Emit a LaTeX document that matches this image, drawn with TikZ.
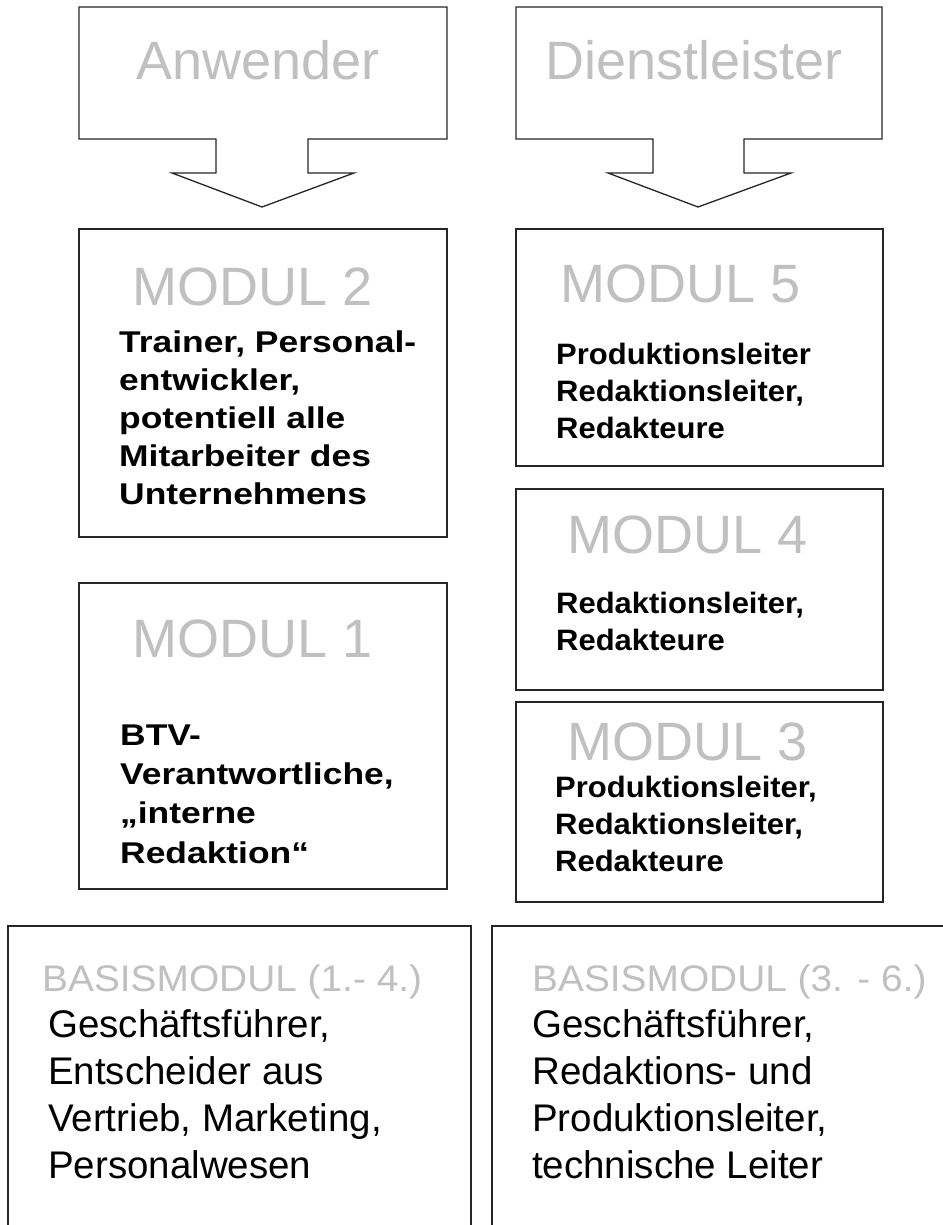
\documentclass[tikz,border=0pt]{standalone}
\usepackage{fontspec}
\setmainfont{Liberation Sans}
\newfontfamily\widebold[FakeStretch=1.18]{Liberation Sans}
\newfontfamily\semibold[FakeStretch=1.05]{Liberation Sans}
\newfontfamily\widelight[FakeStretch=1.05]{Liberation Sans}
\usepackage{tikz}
\definecolor{titlegray}{HTML}{C0C0C0}
\tikzset{
  boxline/.style={line width=1.3pt, draw=black!85, fill=white},
  bigtitle/.style={anchor=base, inner sep=0pt, text=titlegray, font=\fontsize{54}{60}\selectfont},
  modtitle/.style={anchor=base west, inner sep=0pt, text=titlegray, font=\fontsize{54}{60}\selectfont},
  basetitle/.style={anchor=base west, inner sep=0pt, text=titlegray, font=\widelight\fontsize{37}{42}\selectfont},
  % bei mehrzeiligen Knoten liegt "base" auf der letzten Zeile
  leftbody/.style={anchor=base west, inner sep=0pt, align=left, font=\widebold\bfseries\fontsize{30}{38}\selectfont},
  rightbody/.style={anchor=base west, inner sep=0pt, align=left, font=\semibold\bfseries\fontsize{29.5}{37}\selectfont},
  basebody/.style={anchor=base west, inner sep=0pt, align=left, font=\fontsize{38.5}{46.7}\selectfont}
}
\begin{document}
\begin{tikzpicture}[x=1pt, y=-1pt]
        \useasboundingbox (0,0) rectangle (942,1225);

        % Pfeile oben
        \draw [boxline] (79,7) -- (447,7) -- (447,139) -- (308,139) -- (308,173) -- (354,173)
              -- (262,207) -- (172,173) -- (216,173) -- (216,139) -- (79,139) -- cycle;        %Anwender
        \node [bigtitle] (anwender) at (258,80) {Anwender};
        \draw [boxline] (516,7) -- (882,7) -- (882,139) -- (744,139) -- (744,173) -- (791,173)
              -- (698,207) -- (608,173) -- (653,173) -- (653,139) -- (516,139) -- cycle;       %Dienstleister
        \node [bigtitle] (dienstl) at (694,80) {Dienstleister};

        % linke Spalte
        \draw [boxline] (79,229) rectangle (447,537);                                         %MODUL 2
        \node [modtitle] (m2title) at (132,305) {MODUL 2};
        \node [leftbody] (m2text) at (119,504) {Trainer, Personal-\\entwickler,\\potentiell alle\\Mitarbeiter des\\Unternehmens};
        \draw [boxline] (79,583) rectangle (447,889);                                         %MODUL 1
        \node [modtitle] (m1title) at (132,657) {MODUL 1};
        \node [leftbody, font=\widebold\bfseries\fontsize{30}{39.3}\selectfont] (m1text) at (120,863) {BTV-\\Verantwortliche,\\„interne\\Redaktion“};

        % rechte Spalte
        \draw [boxline] (516,229) rectangle (883,466);                                        %MODUL 5
        \node [modtitle] (m5title) at (560,302) {MODUL 5};
        \node [rightbody] (m5text) at (556,438) {Produktionsleiter\\Redaktionsleiter,\\Redakteure};
        \draw [boxline] (516,489) rectangle (883,690);                                        %MODUL 4
        \node [modtitle] (m4title) at (567,553) {MODUL 4};
        \node [rightbody] (m4text) at (556,650) {Redaktionsleiter,\\Redakteure};
        \draw [boxline] (516,702) rectangle (883,902);                                        %MODUL 3
        \node [modtitle] (m3title) at (567,760) {MODUL 3};
        \node [rightbody] (m3text) at (555,871) {Produktionsleiter,\\Redaktionsleiter,\\Redakteure};

        % Basismodule unten
        \draw [boxline] (8,926) rectangle (471,1240);                                         %BASIS links
        \node [basetitle] (b1title) at (42,991) {BASISMODUL (1.- 4.)};
        \node [basebody] (b1text) at (48,1178) {Geschäftsführer,\\Entscheider aus\\Vertrieb, Marketing,\\Personalwesen};
        \draw [boxline] (492,926) rectangle (960,1240);                                       %BASIS rechts
        \node [basetitle] (b2title) at (532,991) {BASISMODUL (3. - 6.)};
        \node [basebody] (b2text) at (532,1178) {Geschäftsführer,\\Redaktions- und\\Produktionsleiter,\\technische Leiter};
\end{tikzpicture}
\end{document}
